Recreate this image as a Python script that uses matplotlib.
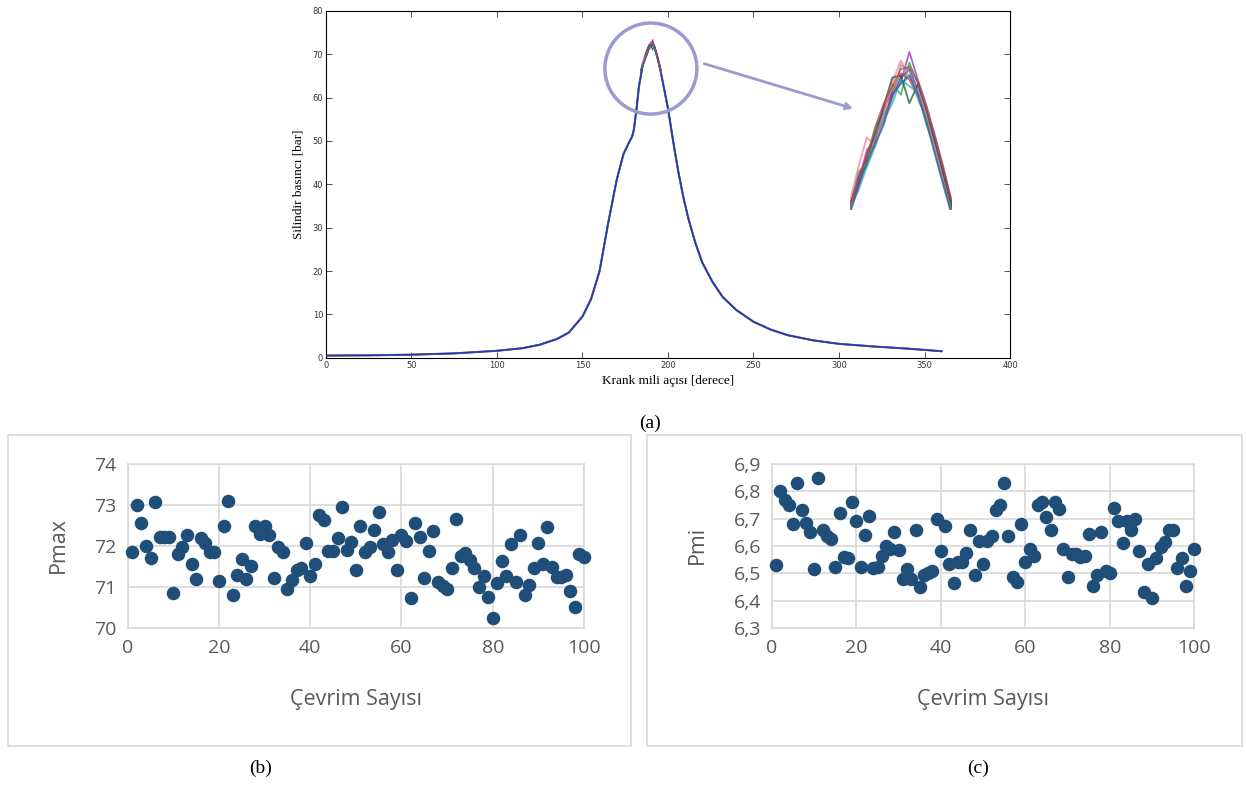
import matplotlib
matplotlib.use('Agg')
import matplotlib.pyplot as plt
import matplotlib.patches as patches

# --- (a) silindir basinci egrisi ---
krank_acisi = [0, 25, 50, 75, 100, 115, 125, 135, 142, 150, 155, 160, 165, 170, 174, 177,
               179, 180, 181.5, 183, 185, 187, 189, 190.5, 192, 194, 196, 198, 200, 203,
               206, 209, 212, 216, 220, 226, 232, 240, 250, 260, 270, 285, 300, 320, 340, 360]
basinc = [0.5, 0.55, 0.7, 1.0, 1.6, 2.2, 3.0, 4.3, 5.8, 9.5, 13.5, 20.0, 31.0, 41.0, 47.0, 49.5,
          51.0, 52.5, 57.0, 62.5, 67.0, 70.0, 72.0, 72.7, 71.8, 69.0, 65.5, 61.5, 57.5, 50.0,
          43.0, 37.0, 32.0, 26.5, 22.0, 17.5, 14.0, 11.0, 8.3, 6.5, 5.2, 4.0, 3.2, 2.6, 2.1, 1.5]

# tepe bolgesi (yakinlastirma) - birkac cevrim
tepe_aci = [184, 185, 186, 187, 188, 189, 190, 191, 192, 193, 194, 195, 196]
tepe_cevrimler = [
    [66.0, 67.2, 68.3, 69.2, 70.4, 71.3, 72.2, 72.6, 71.6, 70.4, 69.1, 67.6, 66.0],
    [66.2, 67.0, 68.6, 69.5, 70.1, 71.6, 72.4, 72.1, 71.3, 70.2, 68.8, 67.4, 66.1],
    [66.1, 67.5, 68.1, 69.8, 70.6, 71.9, 71.4, 72.9, 71.9, 70.6, 69.3, 67.8, 66.2],
    [66.3, 67.3, 68.8, 69.3, 70.8, 71.5, 72.0, 73.4, 72.1, 70.9, 69.5, 68.0, 66.3],
    [66.0, 66.9, 68.0, 69.0, 70.2, 71.0, 72.1, 71.8, 71.5, 70.0, 68.9, 67.3, 65.9],
    [66.4, 68.0, 69.4, 69.0, 70.5, 72.0, 73.0, 72.2, 71.7, 70.5, 69.0, 67.5, 66.0],
    [66.1, 67.6, 68.4, 69.6, 70.9, 72.2, 72.3, 71.0, 71.9, 70.7, 69.2, 67.7, 66.1],
    [65.9, 67.8, 68.2, 69.4, 70.3, 71.2, 72.8, 72.5, 71.2, 70.3, 68.7, 67.1, 65.8],
    [66.2, 67.4, 68.5, 69.9, 71.0, 71.8, 72.6, 72.7, 72.0, 70.8, 69.4, 67.9, 66.4],
    [65.8, 67.1, 68.2, 69.1, 70.0, 71.4, 71.9, 72.3, 71.4, 70.1, 68.6, 67.2, 65.7],
]
tepe_renkler = ['#2030d0', '#e03030', '#20a040', '#9030c0', '#20b0c0', '#f080a0',
                '#106030', '#909090', '#c04040', '#3060a0']

# --- (b) Pmax ve (c) Pmi ---
cevrim = list(range(1, 101))
pmax = [71.85, 73.0, 72.55, 72.0, 71.7, 73.08, 72.23, 72.23, 72.23, 70.85,
        71.8, 71.97, 72.26, 71.55, 71.2, 72.2, 72.07, 71.85, 71.85, 71.14,
        72.48, 73.1, 70.8, 71.29, 71.68, 71.19, 71.51, 72.48, 72.3, 72.48,
        72.26, 71.23, 71.97, 71.85, 70.95, 71.17, 71.41, 71.47, 72.08, 71.26,
        71.57, 72.76, 72.64, 71.87, 71.87, 72.2, 72.96, 71.91, 72.1, 71.41,
        72.48, 71.85, 71.97, 72.4, 72.82, 72.04, 71.85, 72.14, 71.41, 72.26,
        72.11, 70.72, 72.56, 72.23, 71.22, 71.89, 72.36, 71.13, 71.02, 70.94,
        71.47, 72.66, 71.75, 71.83, 71.65, 71.46, 71.0, 71.26, 70.75, 70.24,
        71.1, 71.63, 71.26, 72.04, 71.13, 72.26, 70.8, 71.05, 71.47, 72.07,
        71.57, 72.46, 71.49, 71.25, 71.25, 71.3, 70.9, 70.52, 71.81, 71.72]
pmi = [6.53, 6.80, 6.77, 6.75, 6.68, 6.83, 6.73, 6.685, 6.65, 6.515,
       6.85, 6.66, 6.635, 6.625, 6.525, 6.72, 6.56, 6.555, 6.76, 6.69,
       6.525, 6.64, 6.71, 6.52, 6.525, 6.565, 6.60, 6.59, 6.65, 6.585,
       6.48, 6.515, 6.48, 6.66, 6.45, 6.495, 6.50, 6.51, 6.70, 6.58,
       6.675, 6.535, 6.465, 6.54, 6.54, 6.575, 6.66, 6.495, 6.62, 6.535,
       6.62, 6.635, 6.73, 6.75, 6.83, 6.635, 6.485, 6.47, 6.68, 6.54,
       6.59, 6.565, 6.75, 6.76, 6.705, 6.66, 6.76, 6.735, 6.59, 6.485,
       6.57, 6.57, 6.56, 6.565, 6.645, 6.455, 6.495, 6.65, 6.51, 6.50,
       6.74, 6.69, 6.61, 6.69, 6.66, 6.70, 6.58, 6.43, 6.535, 6.41,
       6.555, 6.595, 6.615, 6.66, 6.66, 6.52, 6.555, 6.455, 6.51, 6.59]

pmax_ticks = [70, 71, 72, 73, 74]
pmi_ticks = [6.3, 6.4, 6.5, 6.6, 6.7, 6.8, 6.9]
x_ticks = [0, 20, 40, 60, 80, 100]

SERIF = 'Liberation Serif'
SANS = 'Open Sans'
NOKTA = '#1f4e79'
IZGARA = '#d9d9d9'
YAZI = '#595959'
HALKA = '#9b9bd2'

fig = plt.figure(figsize=(12.46, 7.85), dpi=100, facecolor='white')

# ---------------- (a) ----------------
ax = fig.add_axes([0.2616, 0.5443, 0.549, 0.4418])
ax.plot(krank_acisi, basinc, color='#e02020', lw=1.5, zorder=2)
ax.plot(krank_acisi, basinc, color='#20a040', lw=1.3, zorder=2)
ax.plot(krank_acisi, basinc, color='#2030e0', lw=1.0, zorder=3)
for ys, c in zip(tepe_cevrimler, tepe_renkler):
    ax.plot(tepe_aci, ys, color=c, lw=0.7, zorder=4)
ax.set_xlim(0, 400)
ax.set_ylim(0, 80)
ax.set_xticks(range(0, 401, 50))
ax.set_yticks(range(0, 81, 10))
ax.tick_params(direction='in', top=True, right=True, labelsize=6, colors='#333333',
               length=4, width=0.6, pad=2)
for s in ax.spines.values():
    s.set_linewidth(0.8)
ax.set_xlabel('Krank mili açısı [derece]', fontname=SERIF, fontsize=9.5, labelpad=4)
ax.set_ylabel('Silindir basıncı [bar]', fontname=SERIF, fontsize=9.5, labelpad=6)

# halka ve ok
ax.add_patch(patches.Ellipse((190, 66.7), 53.8, 21.0, fill=False, edgecolor=HALKA, lw=2.5, zorder=5))
ax.annotate('', xy=(309.8, 57.3), xytext=(219.7, 68.0),
            arrowprops=dict(arrowstyle='->', color=HALKA, lw=2.0, mutation_scale=10))

# yakinlastirilmis tepe
axi = fig.add_axes([0.682, 0.7325, 0.082, 0.204])
for ys, c in zip(tepe_cevrimler, tepe_renkler):
    axi.plot(tepe_aci, ys, color=c, lw=1.3, alpha=0.75)
axi.set_xlim(184, 196)
axi.set_ylim(66, 73.5)
axi.axis('off')

fig.text(650 / 1246, 1 - 423 / 785, '(a)', fontname=SERIF, fontsize=14, ha='center', va='center')


# ---------------- (b), (c) ----------------
def dagilim(rect, cer, ys, yticks, ylabel, yfmt, cx_lbl, cy_lbl, harf, harf_x, cerceve):
    fig.add_artist(patches.Rectangle((cerceve[0], cerceve[1]), cerceve[2], cerceve[3],
                                     transform=fig.transFigure, fill=False,
                                     edgecolor=IZGARA, lw=1.2))
    a = fig.add_axes(rect)
    a.scatter(cer, ys, s=95, color=NOKTA, zorder=3, linewidths=0, clip_on=False)
    a.set_xlim(0, 100)
    a.set_ylim(yticks[0], yticks[-1])
    a.set_xticks(x_ticks)
    a.set_yticks(yticks)
    a.set_yticklabels([yfmt(v) for v in yticks])
    a.grid(True, color=IZGARA, lw=1.2, zorder=0)
    a.set_axisbelow(True)
    for s in a.spines.values():
        s.set_color(IZGARA)
        s.set_linewidth(1.2)
        s.set_zorder(0)
    a.tick_params(length=0, labelsize=14, colors=YAZI, pad=8)
    for t in a.get_xticklabels() + a.get_yticklabels():
        t.set_fontname(SANS)
    fig.text(cx_lbl, cy_lbl, ylabel, rotation=90, fontname=SANS, fontsize=15.5,
             color=YAZI, ha='center', va='center')
    fig.text((rect[0] + rect[2] / 2), 1 - 699 / 785, 'Çevrim Sayısı', fontname=SANS,
             fontsize=15.5, color=YAZI, ha='center', va='center')
    fig.text(harf_x, 1 - 768 / 785, harf, fontname=SERIF, fontsize=14, ha='center', va='center')
    return a


dagilim([0.1025, 0.2, 0.3662, 0.2089], cevrim, pmax, pmax_ticks, 'Pmax',
        lambda v: '%d' % v, 58 / 1246, 1 - 545 / 785, '(b)', 261 / 1246,
        (8 / 1246, 0.0497, 623 / 1246, 0.3962))
dagilim([0.6196, 0.2, 0.3389, 0.2089], cevrim, pmi, pmi_ticks, 'Pmi',
        lambda v: ('%.1f' % v).replace('.', ','), 697 / 1246, 1 - 545 / 785, '(c)', 978 / 1246,
        (647 / 1246, 0.0497, 595 / 1246, 0.3962))

plt.savefig('out.png', dpi=100, facecolor='white')
